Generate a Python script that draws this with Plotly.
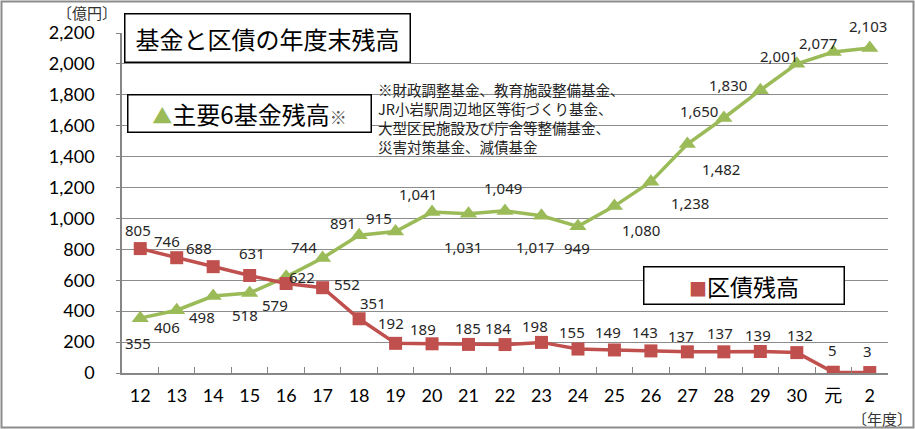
import plotly.graph_objects as go

# ---- data ----
years = ["12", "13", "14", "15", "16", "17", "18", "19", "20", "21", "22",
         "23", "24", "25", "26", "27", "28", "29", "30", "元", "2"]
funds = [355, 406, 498, 518, 622, 744, 891, 915, 1041, 1031, 1049,
         1017, 949, 1080, 1238, 1482, 1650, 1830, 2001, 2077, 2103]
bonds = [805, 746, 688, 631, 579, 552, 351, 192, 189, 185, 184,
         198, 155, 149, 143, 137, 137, 139, 132, 5, 3]
y_ticks = [0, 200, 400, 600, 800, 1000, 1200, 1400, 1600, 1800, 2000, 2200]

title_text = "基金と区債の年度末残高"
fund_name = "主要6基金残高"
bond_name = "区債残高"
note_lines = ["※財政調整基金、教育施設整備基金、",
              "JR小岩駅周辺地区等街づくり基金、",
              "大型区民施設及び庁舎等整備基金、",
              "災害対策基金、減債基金"]

# ---- style / layout ----
GREEN = "#9BBB59"
RED = "#C0504D"
W, H = 915, 429
L, R, T, B = 122, 27, 33, 56
PW, PH = W - L - R, H - T - B

def px(x):
    return (x - L) / PW

def py(y):
    return (H - B - y) / PH

# label offsets (screen px: dx right, dy down) for each point
fund_off = [(-2, 25), (-10, 17), (-11, 21), (-5, 22), (16, 0), (-19, -11),
            (-16, -12), (-17, -14), (-14, -18), (-6, 33), (-2, -23), (-6, 31),
            (-1, 22), (27, 24), (39, 21), (34, 25), (-25, -7), (-32, -5),
            (-18, -8), (-15, -9), (-2, -22)]
bond_off = [(-2, -19), (-10, -17), (-14, -19), (2, -22), (-11, 21), (24, -4),
            (14, -16), (-5, -20), (-9, -15), (-1, -16), (-7, -17), (-6, -16),
            (-6, -17), (-6, -18), (-6, -19), (-6, -16), (-4, -19), (-2, -17),
            (3, -18), (-1, -22), (-2, -22)]

NUM_FONT = "Lato, Noto Sans CJK JP, sans-serif"
LBL_FONT = "Noto Sans, Noto Sans CJK JP, sans-serif"
JP_FONT = "Noto Sans CJK JP, sans-serif"

fig = go.Figure()
fig.add_trace(go.Scatter(
    x=years, y=funds, mode="lines+markers", name=fund_name,
    line=dict(color=GREEN, width=3.5),
    marker=dict(symbol="triangle-up", size=15, color=GREEN),
    hoverinfo="x+y"))
fig.add_trace(go.Scatter(
    x=years, y=bonds, mode="lines+markers", name=bond_name,
    line=dict(color=RED, width=3.5),
    marker=dict(symbol="square", size=13, color=RED),
    hoverinfo="x+y"))

annotations = []
for series, offs in ((funds, fund_off), (bonds, bond_off)):
    for i, (v, (dx, dy)) in enumerate(zip(series, offs)):
        annotations.append(dict(
            x=i, y=v, xref="x", yref="y", text=f"{v:,}", showarrow=False,
            xshift=dx, yshift=-dy, xanchor="center", yanchor="middle",
            font=dict(family=LBL_FONT, size=15, color="#262626")))

# title box
annotations.append(dict(
    x=px(124), y=py(13), xref="paper", yref="paper", xanchor="left", yanchor="top",
    text=title_text, showarrow=False, width=284, height=47, align="center", valign="middle",
    bgcolor="white", bordercolor="black", borderwidth=1.5, borderpad=0,
    font=dict(family=JP_FONT, size=24, color="black")))
# fund legend box
annotations.append(dict(
    x=px(127), y=py(94), xref="paper", yref="paper", xanchor="left", yanchor="top",
    text=(f"<span style='color:{GREEN};font-size:20px'>▲</span>{fund_name}"
          "<span style='font-size:17px;color:#555'>※</span>"),
    showarrow=False, width=242, height=36, align="center", valign="middle",
    bgcolor="white", bordercolor="black", borderwidth=1.5, borderpad=0,
    font=dict(family=JP_FONT, size=24, color="black")))
# bond legend box
annotations.append(dict(
    x=px(643), y=py(266), xref="paper", yref="paper", xanchor="left", yanchor="top",
    text=f"<span style='color:{RED};font-size:18px'>■</span>{bond_name}",
    showarrow=False, width=199, height=36, align="center", valign="middle",
    bgcolor="white", bordercolor="black", borderwidth=1.5, borderpad=0,
    font=dict(family=JP_FONT, size=23, color="black")))
# note (one annotation per line)
for k, line in enumerate(note_lines):
    annotations.append(dict(
        x=px(376), y=py(89 + 19 * k), xref="paper", yref="paper",
        xanchor="left", yanchor="middle",
        text=line, showarrow=False, align="left",
        font=dict(family=JP_FONT, size=14.5, color="#222")))
# axis unit labels
annotations.append(dict(
    x=px(87), y=py(13), xref="paper", yref="paper", xanchor="center", yanchor="middle",
    text="〔億円〕", showarrow=False,
    font=dict(family=JP_FONT, size=15, color="#333")))
annotations.append(dict(
    x=px(882), y=py(418), xref="paper", yref="paper", xanchor="center", yanchor="middle",
    text="〔年度〕", showarrow=False,
    font=dict(family=JP_FONT, size=15, color="#333")))

shapes = [dict(type="rect", xref="paper", yref="paper",
               x0=px(1.5), x1=px(913.5), y0=py(427.5), y1=py(1.5),
               line=dict(color="#8c8c8c", width=2), fillcolor="rgba(0,0,0,0)",
               layer="below")]

fig.update_layout(
    width=W, height=H,
    margin=dict(l=L, r=R, t=T, b=B, pad=0),
    paper_bgcolor="white", plot_bgcolor="white",
    showlegend=False,
    annotations=annotations, shapes=shapes,
    xaxis=dict(
        type="category", categoryorder="array", categoryarray=years,
        showline=True, linecolor="#868686", linewidth=1.5,
        ticks="inside", tickson="boundaries", ticklen=6, tickcolor="#868686",
        showgrid=False, tickfont=dict(family=NUM_FONT, size=18, color="black"),
        ticklabelstandoff=6, range=[-0.5, len(years) - 0.5], fixedrange=True),
    yaxis=dict(
        range=[0, 2200], tickvals=y_ticks,
        ticktext=[f"{v:,}" for v in y_ticks],
        showline=True, linecolor="#868686", linewidth=1.5,
        showgrid=True, gridcolor="#8c8c8c", gridwidth=1,
        ticks="outside", ticklen=4, tickcolor="#868686",
        zeroline=False,
        tickfont=dict(family=NUM_FONT, size=18, color="black"),
        ticklabelstandoff=18, fixedrange=True),
)

fig.write_html("out.html", config={"displayModeBar": False},
               post_script="document.body.style.margin='0';document.body.style.padding='0';")
